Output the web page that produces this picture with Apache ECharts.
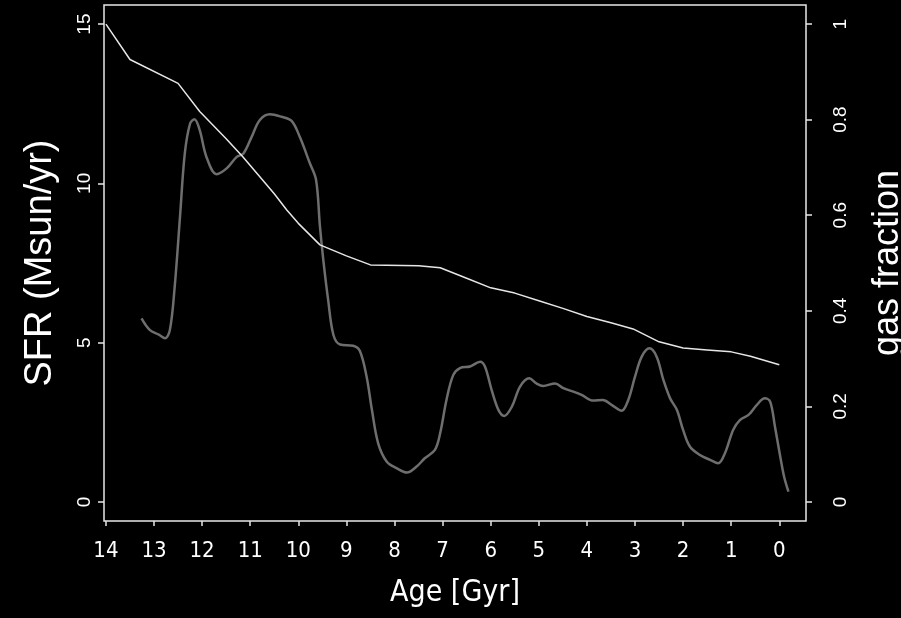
<!DOCTYPE html>
<html>
<head>
<meta charset="utf-8">
<script src="https://cdn.jsdelivr.net/npm/echarts@6/dist/echarts.min.js"></script>
<style>
html,body{margin:0;padding:0;background:#000;}
#chart{width:901px;height:618px;}
</style>
</head>
<body>
<div id="chart"></div>
<script>
// Age ticks (Gyr)
const ageTicks = [0,1,2,3,4,5,6,7,8,9,10,11,12,13,14];
const sfrTicks = [0,5,10,15];
const gasTicks = [0,0.2,0.4,0.6,0.8,1];
const gasTickLabels = ['0','0.2','0.4','0.6','0.8','1'];

// SFR curve (Msun/yr) vs age (Gyr)
const sfrAge = [13.26,13.09,12.9,12.77,12.67,12.57,12.46,12.36,12.25,12.16,12.05,11.91,11.7,11.49,11.28,11.14,10.97,10.8,10.59,10.35,10.14,9.97,9.76,9.63,9.55,9.48,9.38,9.27,9.13,8.86,8.72,8.58,8.47,8.34,8.16,7.96,7.74,7.54,7.37,7.16,7.05,6.92,6.78,6.64,6.43,6.22,6.12,5.98,5.84,5.72,5.56,5.39,5.2,5.05,4.91,4.66,4.49,4.28,4.11,3.87,3.67,3.48,3.28,3.14,3.0,2.86,2.7,2.55,2.41,2.27,2.13,2.0,1.86,1.65,1.44,1.27,1.13,0.96,0.82,0.64,0.47,0.3,0.19,0.09,-0.02,-0.1,-0.19];
const sfrVal = [5.76,5.4,5.25,5.14,5.4,6.76,8.95,10.94,11.88,12.01,11.67,10.83,10.29,10.47,10.83,10.94,11.46,11.99,12.17,12.09,11.96,11.46,10.63,10.1,8.64,7.59,6.34,5.24,4.94,4.9,4.74,3.93,2.89,1.84,1.26,1.06,0.92,1.11,1.37,1.63,2.16,3.2,3.98,4.2,4.25,4.4,4.25,3.51,2.89,2.7,2.99,3.62,3.88,3.72,3.64,3.72,3.57,3.46,3.36,3.18,3.2,3.04,2.86,3.2,3.93,4.56,4.82,4.56,3.83,3.25,2.89,2.26,1.74,1.47,1.32,1.21,1.53,2.26,2.57,2.73,3.04,3.25,3.15,2.36,1.42,0.79,0.32];

// Gas fraction vs age (Gyr)
const gasAge = [14.0,13.5,12.5,12.05,11.5,11.15,10.5,10.24,10.0,9.55,9.0,8.5,7.5,7.05,6.5,6.0,5.5,5.0,4.5,4.0,3.5,3.04,2.5,2.0,1.5,1.0,0.6,0.0];
const gasVal = [1.0,0.926,0.876,0.817,0.76,0.722,0.645,0.611,0.583,0.538,0.515,0.496,0.494,0.49,0.468,0.448,0.437,0.421,0.405,0.388,0.375,0.362,0.335,0.322,0.318,0.314,0.305,0.287];

const sfrData = sfrAge.map((a,i)=>[a,sfrVal[i]]);
const gasData = gasAge.map((a,i)=>[a,gasVal[i]]);

const FG = '#ffffff';
const NARROW = "'Liberation Sans Narrow','Arial Narrow','DejaVu Sans Condensed','Liberation Sans',sans-serif";
const SANS = "'Liberation Sans',Arial,sans-serif";
const chart = echarts.init(document.getElementById('chart'), null, {renderer:'canvas'});
chart.setOption({
  backgroundColor:'#000000',
  animation:false,
  grid:{left:104,right:95,top:5,bottom:97,outerBoundsMode:'none',containLabel:false,show:true,borderColor:'#e8e8e8',borderWidth:1.5,backgroundColor:'transparent'},
  xAxis:{
    type:'value', inverse:true, min:-0.555, max:14.04,
    name:'Age [Gyr]', nameLocation:'middle', nameGap:57,
    nameTextStyle:{color:FG,fontSize:30,fontFamily:NARROW},
    axisLine:{show:false,onZero:false},
    splitLine:{show:false},
    axisTick:{show:true,customValues:ageTicks,length:5,lineStyle:{color:'#e8e8e8',width:1.5}},
    axisLabel:{show:true,customValues:ageTicks,color:FG,fontSize:22,fontFamily:NARROW,margin:19,formatter:v=>String(v)}
  },
  yAxis:[{
    type:'value', position:'left', min:-0.6, max:15.6,
    name:'SFR (Msun/yr)', nameLocation:'middle', nameRotate:90, nameGap:44,
    nameTextStyle:{color:FG,fontSize:38,fontFamily:SANS},
    axisLine:{show:false,onZero:false}, splitLine:{show:false},
    axisTick:{show:true,customValues:sfrTicks,length:6,lineStyle:{color:'#e8e8e8',width:1.5}},
    axisLabel:{show:true,customValues:sfrTicks,rotate:90,color:FG,fontSize:19,fontFamily:SANS,margin:10,formatter:v=>String(v)}
  },{
    type:'value', position:'right', min:-0.04, max:1.04,
    name:'gas fraction', nameLocation:'middle', nameRotate:90, nameGap:64,
    nameTextStyle:{color:FG,fontSize:36,fontFamily:SANS},
    axisLine:{show:false,onZero:false}, splitLine:{show:false},
    axisTick:{show:true,customValues:gasTicks,length:6,lineStyle:{color:'#e8e8e8',width:1.5}},
    axisLabel:{show:true,customValues:gasTicks,rotate:90,color:FG,fontSize:19,fontFamily:SANS,margin:25,
      formatter:v=>{const i=gasTicks.findIndex(t=>Math.abs(t-v)<1e-9);return i>=0?gasTickLabels[i]:String(v);}}
  }],
  series:[{
    type:'line', yAxisIndex:0, data:sfrData, showSymbol:false, symbol:'none',
    smooth:0.35, lineStyle:{color:'#6e6e6e',width:2.5}, z:2
  },{
    type:'line', yAxisIndex:1, data:gasData, showSymbol:false, symbol:'none',
    smooth:false, lineStyle:{color:'#e6e6e6',width:1.5}, z:3
  }]
});
</script>
</body>
</html>
